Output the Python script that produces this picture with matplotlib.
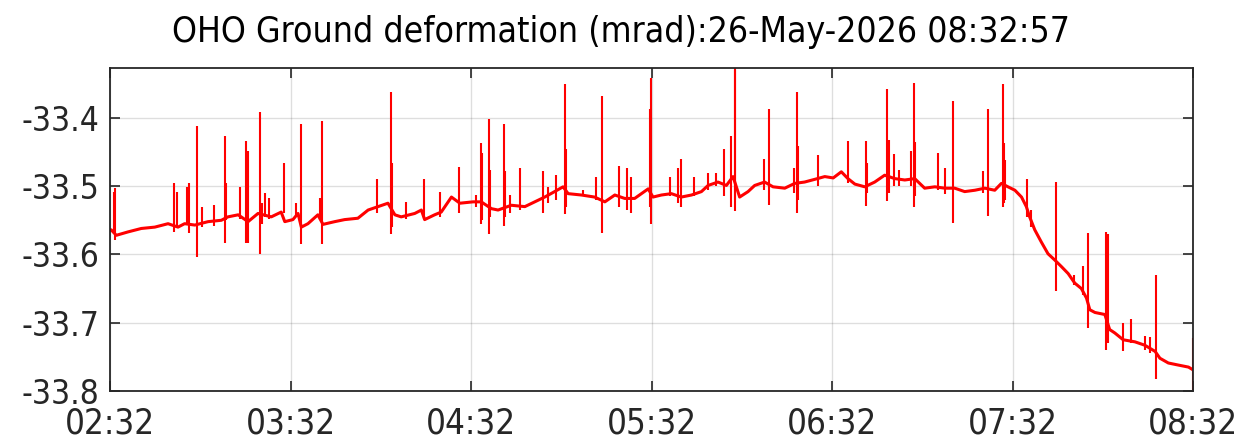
import matplotlib
matplotlib.use("Agg")
import matplotlib.pyplot as plt

# Baseline of the tilt record (minutes after 02:32, mrad)
base_t = [0.0, 0.4, 2.1, 6.0, 10.4, 14.9, 19.3, 22.6, 24.8, 28.2, 32.6, 37.0, 39.2,
          42.6, 45.9, 49.2, 53.6, 56.9, 58.1, 60.8, 62.5, 63.6, 65.8, 69.1, 70.8,
          74.7, 78.0, 82.4, 85.8, 89.1, 92.4, 94.7, 96.8, 101.3, 103.5, 104.6, 107.9,
          110.1, 113.5, 116.3, 120.7, 123.4, 126.8, 129.0, 133.4, 137.9, 141.2, 144.5,
          147.8, 150.6, 152.3, 156.7, 161.1, 164.5, 167.8, 171.1, 174.4, 178.9, 180.5,
          183.3, 186.6, 189.9, 193.3, 196.6, 198.8, 202.1, 204.9, 207.1, 209.3, 212.1,
          214.3, 217.6, 220.4, 224.3, 227.6, 230.9, 234.3, 237.6, 240.4, 243.1, 245.3,
          247.6, 250.9, 254.2, 257.5, 260.9, 264.2, 267.5, 270.8, 274.2, 277.5, 280.8,
          284.1, 287.5, 290.8, 294.1, 296.3, 298.5, 300.8, 303.0, 304.6, 305.7, 307.4,
          309.6, 311.8, 314.0, 316.3, 318.5, 320.7, 322.9, 324.6, 325.7, 327.4, 330.7,
          332.3, 334.0, 336.8, 340.7, 344.0, 347.4, 349.0, 351.8, 355.1, 358.5, 360.0]
base_v = [-33.564, -33.564, -33.572, -33.567, -33.562, -33.560, -33.555, -33.560, -33.555,
          -33.557, -33.552, -33.550, -33.545, -33.542, -33.552, -33.540, -33.545, -33.538,
          -33.552, -33.549, -33.540, -33.560, -33.555, -33.542, -33.556, -33.552, -33.549,
          -33.547, -33.535, -33.530, -33.525, -33.542, -33.545, -33.540, -33.535, -33.549,
          -33.542, -33.538, -33.516, -33.525, -33.523, -33.523, -33.533, -33.535, -33.528,
          -33.530, -33.523, -33.516, -33.508, -33.501, -33.511, -33.513, -33.516, -33.523,
          -33.513, -33.518, -33.518, -33.504, -33.516, -33.513, -33.511, -33.516, -33.513,
          -33.508, -33.499, -33.494, -33.499, -33.486, -33.516, -33.508, -33.499, -33.494,
          -33.501, -33.503, -33.496, -33.494, -33.490, -33.486, -33.488, -33.479, -33.489,
          -33.497, -33.501, -33.494, -33.484, -33.489, -33.491, -33.489, -33.503, -33.501,
          -33.503, -33.503, -33.508, -33.506, -33.503, -33.506, -33.496, -33.501, -33.506,
          -33.516, -33.530, -33.545, -33.564, -33.582, -33.599, -33.608, -33.618, -33.628,
          -33.642, -33.650, -33.664, -33.681, -33.685, -33.688, -33.710, -33.715, -33.725,
          -33.728, -33.733, -33.742, -33.752, -33.759, -33.762, -33.765, -33.769]

# Spikes: time, top value, bottom value
spike_t = [1.2, 1.8, 21.3, 22.4, 25.7, 26.3, 29.0, 30.5, 34.6, 38.1, 38.6, 43.1, 45.3,
           45.9, 49.8, 50.6, 51.4, 52.9, 57.8, 61.8, 63.4, 69.8, 70.5, 88.9, 93.5, 93.9,
           98.5, 104.4, 109.6, 116.0, 121.5, 123.2, 123.6, 125.9, 126.3, 130.9, 131.2,
           132.8, 136.2, 143.9, 145.6, 148.4, 151.2, 151.5, 157.3, 161.5, 163.7, 169.1,
           171.8, 173.3, 179.4, 179.7, 186.1, 188.8, 189.9, 194.1, 198.8, 201.5, 204.1,
           206.3, 207.6, 207.9, 217.4, 219.0, 227.3, 228.3, 228.6, 235.4, 245.3, 251.2,
           251.6, 258.4, 258.8, 260.6, 262.2, 266.2, 267.2, 267.6, 275.3, 277.5, 280.3,
           290.1, 291.9, 296.7, 297.1, 297.6, 304.9, 306.0, 314.3, 320.3, 323.5, 325.1,
           331.2, 331.6, 336.8, 339.5, 344.0, 345.7, 347.6, 359.9]
spike_hi = [-33.508, -33.503, -33.496, -33.508, -33.501, -33.496, -33.412, -33.530, -33.528,
            -33.427, -33.496, -33.501, -33.434, -33.448, -33.391, -33.525, -33.510, -33.518,
            -33.466, -33.525, -33.409, -33.518, -33.404, -33.489, -33.362, -33.466, -33.523,
            -33.489, -33.508, -33.472, -33.513, -33.437, -33.451, -33.402, -33.476, -33.409,
            -33.478, -33.513, -33.473, -33.478, -33.501, -33.484, -33.351, -33.446, -33.506,
            -33.487, -33.368, -33.471, -33.474, -33.487, -33.387, -33.342, -33.486, -33.473,
            -33.460, -33.486, -33.481, -33.481, -33.446, -33.426, -33.326, -33.330, -33.460,
            -33.387, -33.473, -33.362, -33.441, -33.455, -33.434, -33.434, -33.466, -33.358,
            -33.432, -33.453, -33.477, -33.448, -33.349, -33.435, -33.451, -33.474, -33.376,
            -33.478, -33.387, -33.351, -33.437, -33.462, -33.489, -33.535, -33.494, -33.630,
            -33.617, -33.568, -33.567, -33.570, -33.700, -33.695, -33.719, -33.721, -33.630,
            -33.723]
spike_lo = [-33.570, -33.579, -33.567, -33.560, -33.556, -33.569, -33.604, -33.560, -33.558,
            -33.584, -33.550, -33.548, -33.584, -33.584, -33.600, -33.555, -33.545, -33.548,
            -33.540, -33.545, -33.585, -33.550, -33.585, -33.540, -33.570, -33.560, -33.548,
            -33.548, -33.545, -33.540, -33.530, -33.556, -33.550, -33.570, -33.545, -33.559,
            -33.545, -33.540, -33.535, -33.540, -33.525, -33.520, -33.541, -33.530, -33.515,
            -33.520, -33.568, -33.530, -33.535, -33.540, -33.530, -33.556, -33.515, -33.525,
            -33.530, -33.515, -33.505, -33.500, -33.515, -33.530, -33.536, -33.520, -33.505,
            -33.528, -33.510, -33.539, -33.520, -33.500, -33.495, -33.529, -33.510, -33.522,
            -33.510, -33.500, -33.500, -33.500, -33.531, -33.515, -33.505, -33.512, -33.554,
            -33.510, -33.544, -33.531, -33.525, -33.520, -33.545, -33.560, -33.654, -33.645,
            -33.660, -33.708, -33.740, -33.730, -33.741, -33.730, -33.740, -33.745, -33.783,
            -33.798]

xticks = [0, 60, 120, 180, 240, 300, 360]
xlabels = ["02:32", "03:32", "04:32", "05:32", "06:32", "07:32", "08:32"]
yticks = [-33.8, -33.7, -33.6, -33.5, -33.4]
title = "OHO Ground deformation (mrad):26-May-2026 08:32:57"

dark = "#262626"
plt.rcParams["font.family"] = "DejaVu Sans"
plt.rcParams["font.stretch"] = "condensed"

fig = plt.figure(figsize=(12.42, 4.38), dpi=100)
ax = fig.add_axes([110 / 1242, 47 / 438, 1083 / 1242, 323 / 438])

ax.plot(base_t, base_v, color="red", lw=2.2)
ax.vlines(spike_t, spike_lo, spike_hi, color="red", lw=1.5)

ax.set_xlim(0, 360)
ax.set_ylim(-33.8, -33.327)
ax.set_xticks(xticks)
ax.set_xticklabels(xlabels)
ax.set_yticks(yticks)
ax.set_yticklabels([f"{v:.1f}" for v in yticks])

ax.grid(True, color=dark, alpha=0.15, lw=1)
ax.tick_params(direction="in", length=7, width=1.2, colors=dark, labelsize=24,
               top=True, right=True)
ax.tick_params(axis="x", pad=11, labelsize=25)
ax.tick_params(axis="y", pad=8)
for s in ax.spines.values():
    s.set_color(dark)
    s.set_linewidth(1.3)

fig.text(0.5, 1 - 32 / 438, title, ha="center", va="center", fontsize=25.5, color="black")

fig.savefig("out.png", dpi=100)
